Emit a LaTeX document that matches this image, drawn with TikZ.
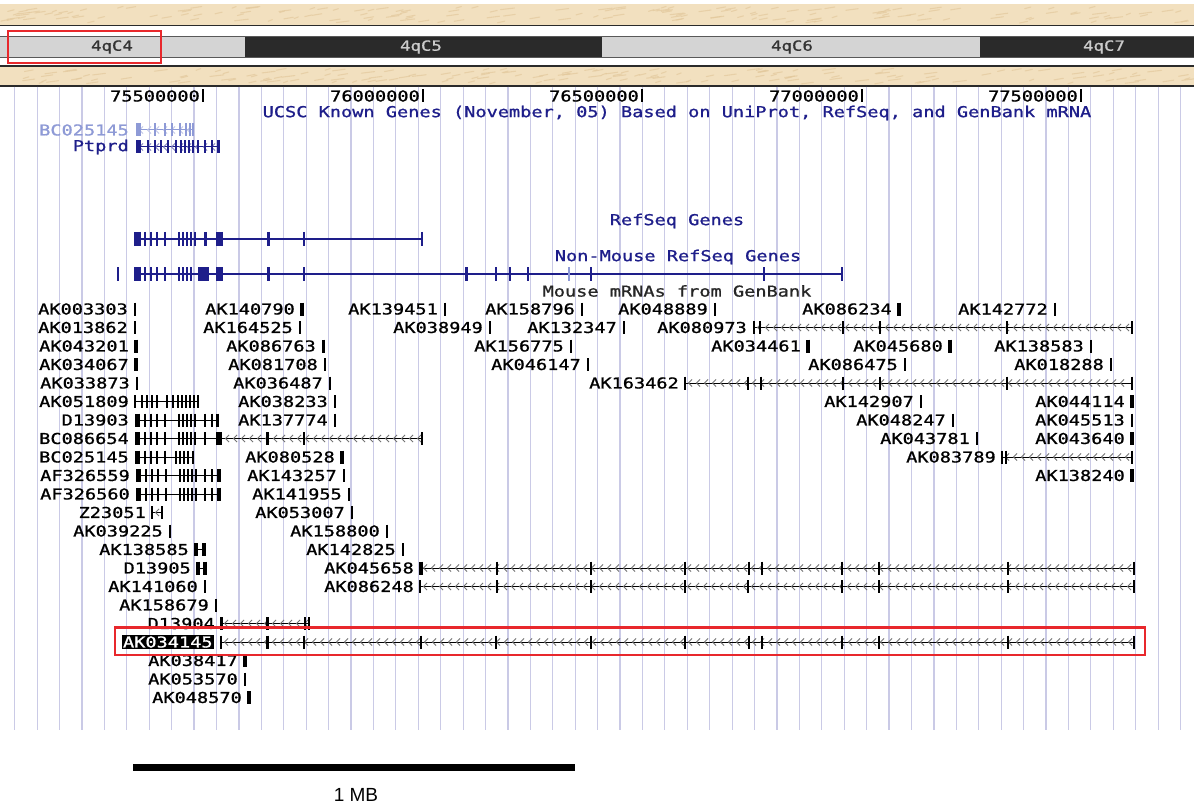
\documentclass[tikz,border=0pt]{standalone}
\usepackage{fontspec}
\newfontfamily\ucsc[FakeStretch=1.24,FakeBold=1.0]{DejaVu Sans Mono}
\newfontfamily\helv{Liberation Sans}
\definecolor{navy}{HTML}{1E1E8A}
\definecolor{lblue}{HTML}{8E9AD6}
\definecolor{gridc}{HTML}{CACAE6}
\definecolor{beige}{HTML}{F2E0BF}
\definecolor{beigeb}{HTML}{E3C99D}
\definecolor{redb}{HTML}{E8282C}
\definecolor{lgray}{HTML}{D4D4D4}
\definecolor{dgray}{HTML}{2A2A2A}
\tikzset{
  lab/.style={font=\ucsc\fontsize{15}{15}\selectfont, inner sep=0pt, anchor=east, text=black},
  ttl/.style={font=\ucsc\fontsize{15}{15}\selectfont, inner sep=0pt},
  bandtxt/.style={font=\ucsc\fontsize{14}{14}\selectfont, inner sep=0pt},
  gridline/.style={draw=gridc, line width=1.2pt},
  chev/.style={draw=#1, line width=0.9pt},
}
% single-exon mRNA: x, y, width, name
\newcommand\one[4]{%
  \node[lab] (n#4) at ({#1-7},#2) {#4};
  \draw[line width=#3] (#1,{#2-6.5}) -- (#1,{#2+6.5});
}
% multi-exon glyph with chevrons: y, x1, x2, exons x/w, colour
\newcommand\mg[5]{%
  \draw[line width=1pt,#5] (#2,#1) -- (#3,#1);
  \pgfmathsetmacro\ca{#2+5}\pgfmathsetmacro\cb{#2+13}\pgfmathsetmacro\cc{#3-3}
  \foreach \a in {\ca,\cb,...,\cc} \draw[chev=#5!55!white] ({\a+2},{#1-3.6}) -- ({\a-1.6},#1) -- ({\a+2},{#1+3.6});
  \foreach \e/\w in {#4} \draw[#5,line width=\w] (\e,{#1-6.5}) -- (\e,{#1+6.5});
}
% short glyph without chevrons
\newcommand\mgs[5]{%
  \draw[line width=1pt,#5] (#2,#1) -- (#3,#1);
  \foreach \e/\w in {#4} \draw[#5,line width=\w] (\e,{#1-6.5}) -- (\e,{#1+6.5});
}
% refseq gene: y, x1, x2, exons
\newcommand\rg[4]{%
  \draw[navy,line width=2pt] (#2,#1) -- (#3,#1);
  \foreach \e/\w in {#4} \draw[navy,line width=\w] (\e,{#1-7}) -- (\e,{#1+7});
}
\begin{document}
\begin{tikzpicture}[x=1pt,y=-1pt]
\useasboundingbox (0,0) rectangle (1194,805);
\fill[white] (0,0) rectangle (1194,805);
% beige bands
\fill[beige] (0,4) rectangle (1194,25.5);
\fill[beige] (0,66) rectangle (1194,86);
\pgfmathsetseed{11}
\foreach \i in {1,...,170} {
  \pgfmathsetmacro\rx{rnd*1194}
  \pgfmathsetmacro\ry{8+rnd*15}
  \pgfmathsetmacro\rl{4+rnd*10}
  \draw[beigeb, line width=1.1pt, line cap=round, opacity=0.7] (\rx,\ry) -- ++(\rl,-1.6);
}
\foreach \i in {1,...,170} {
  \pgfmathsetmacro\rx{rnd*1194}
  \pgfmathsetmacro\ry{70+rnd*14}
  \pgfmathsetmacro\rl{4+rnd*10}
  \draw[beigeb, line width=1.1pt, line cap=round, opacity=0.7] (\rx,\ry) -- ++(\rl,-1.6);
}
\draw[dgray, line width=1.2pt] (0,25.5) -- (1194,25.5);
\draw[dgray, line width=1.2pt] (0,66) -- (1194,66);
\draw[dgray, line width=1.2pt] (0,86) -- (1194,86);
% ideogram
\fill[lgray] (0,37) rectangle (245,57);
\fill[dgray] (245,37) rectangle (602,57);
\fill[lgray] (602,37) rectangle (980,57);
\fill[dgray] (980,37) rectangle (1194,57);
\draw[black!65, line width=1pt] (0,36.5) -- (1194,36.5);
\draw[black!65, line width=1pt] (0,57.5) -- (1194,57.5);
\node[bandtxt, text=black!80] (b4) at (112,47) {4qC4};
\node[bandtxt, text=black!20] (b5) at (421,47) {4qC5};
\node[bandtxt, text=black!80] (b6) at (792,47) {4qC6};
\node[bandtxt, text=black!20] (b7) at (1104,47) {4qC7};
% grid
\foreach \k in {0,...,52} \draw[gridline] ({14.7+22.42*\k},86.6) -- ({14.7+22.42*\k},730);
% ruler
\foreach \t/\l in {203/75500000, 423/76000000, 642/76500000, 862/77000000, 1081/77500000} {
  \node[lab] (r\l) at ({\t-3},96) {\l};
  \draw[line width=1.6pt] (\t,89.5) -- (\t,102);
}
\node[ttl, text=navy] (kgt) at (677,113) {UCSC Known Genes (November, 05) Based on UniProt, RefSeq, and GenBank mRNA};
% known genes
\node[lab, text=lblue] (kgBC) at (129,130) {BC025145};
\mg{130}{136}{193}{138/5,155/1.5,165/1.5,172/1.5,180/1.5,186/1.5,190/1.5,193/1.5}{lblue}
\node[lab, text=navy] (kgP) at (129,147) {Ptprd};
\mg{147}{136}{219}{138/5,148/1.5,155/1.5,161/1.5,168/1.5,176/1.5,181/1.5,185/1.5,189/1.5,193/1.5,198/1.5,205/1.5,212/1.5,218/3}{navy}
% refseq
\node[ttl, text=navy] (rst) at (677,221) {RefSeq Genes};
\rg{239}{134}{422}{137/7,145/2,151/2,157/2,165/2,179/2,183/2,187/2,191/2,195/2,205/3,219.5/7,268/3,304/2.5,422/2}
\node[ttl, text=navy] (nmt) at (678,257) {Non-Mouse RefSeq Genes};
\draw[navy, line width=2pt] (117.5,267) -- (117.5,281);
\rg{274}{134}{842}{137/7,145/2,151/2,157/2,165/2,179/2,183/2,187/2,191/2,203.5/11,219.5/7,268/3,304/2.5,466/3,496/2,510/2,528/2.5,591/2,764/2,842/2}
\draw[lblue, line width=2pt] (569,267) -- (569,281);
\node[ttl, text=black!85] (mmt) at (677,291) {Mouse mRNAs from GenBank};
% row 1
\one{135}{309}{1.8}{AK003303}
\one{302}{309}{3.5}{AK140790}
\one{445}{309}{1.8}{AK139451}
\one{582}{309}{1.8}{AK158796}
\one{715}{309}{1.8}{AK048889}
\one{899}{309}{3.5}{AK086234}
\one{1055}{309}{1.8}{AK142772}
% row 2
\one{135}{327.5}{1.8}{AK013862}
\one{300}{327.5}{1.8}{AK164525}
\one{490}{327.5}{1.8}{AK038949}
\one{624}{327.5}{1.8}{AK132347}
\node[lab] (nAK080973) at (747,327.5) {AK080973};
\mg{327.5}{754}{1132}{754/1.5,760/1.5,843/2,880/2,1007/2,1132/2}{black}
% row 3
\one{136}{346}{4}{AK043201}
\one{323}{346}{3}{AK086763}
\one{571}{346}{1.8}{AK156775}
\one{808}{346}{3.5}{AK034461}
\one{950}{346}{3.5}{AK045680}
\one{1091}{346}{1.8}{AK138583}
% row 4
\one{136}{364.5}{4}{AK034067}
\one{325}{364.5}{1.8}{AK081708}
\one{588}{364.5}{1.8}{AK046147}
\one{905}{364.5}{1.8}{AK086475}
\one{1111}{364.5}{1.8}{AK018288}
% row 5
\one{137}{383}{2.5}{AK033873}
\one{330}{383}{1.8}{AK036487}
\node[lab] (nAK163462) at (679,383) {AK163462};
\mg{383}{685}{1132}{685/1.5,748/2,761/1.5,843/2,880/2,1007/2,1132/2}{black}
% row 6
\node[lab] (nAK051809) at (129,401.5) {AK051809};
\mgs{401.5}{135}{198}{135/1.5,142/1.5,147/1.5,152/1.5,157/1.5,167/1.5,173/1.5,178/1.5,182/1.5,186/1.5,190/1.5,194/1.5,198/1.5}{black}
\one{335}{401.5}{1.8}{AK038233}
\one{921}{401.5}{1.8}{AK142907}
\one{1132}{401.5}{3.5}{AK044114}
% row 7
\node[lab] (nD13903) at (129,420) {D13903};
\mgs{420}{135}{218}{137/5,145/1.5,151/1.5,157/1.5,165/1.5,179/1.5,183/1.5,187/1.5,191/1.5,195/1.5,205/1.5,212/1.5,217/3}{black}
\one{335}{420}{1.8}{AK137774}
\one{953}{420}{1.8}{AK048247}
\one{1132}{420}{1.8}{AK045513}
% row 8
\node[lab] (nBC086654) at (129,438.5) {BC086654};
\mg{438.5}{222}{422}{267/3,304/1.8,422/1.8}{black}
\mgs{438.5}{135}{222}{137/5,145/1.5,151/1.5,157/1.5,165/1.5,179/1.5,183/1.5,187/1.5,191/1.5,195/1.5,205/1.5,219/6}{black}
\one{977}{438.5}{1.8}{AK043781}
\one{1132}{438.5}{3.5}{AK043640}
% row 9
\node[lab] (nBC025145) at (129,457) {BC025145};
\mgs{457}{135}{193}{137/5,145/1.5,151/1.5,157/1.5,165/1.5,176/1.5,180/1.5,184/1.5,188/1.5,193/1.5}{black}
\one{342}{457}{3.5}{AK080528}
\node[lab] (nAK083789) at (996,457) {AK083789};
\mg{457}{1002}{1132}{1002/1.5,1006/1.5,1132/2}{black}
% row 10
\node[lab] (nAF326559) at (130,475.5) {AF326559};
\mgs{475.5}{136}{220}{138/5,146/1.5,152/1.5,158/1.5,166/1.5,180/1.5,184/1.5,188/1.5,192/1.5,196/1.5,205/1.5,212/1.5,219/4}{black}
\one{344}{475.5}{1.8}{AK143257}
\one{1132}{475.5}{3.5}{AK138240}
% row 11
\node[lab] (nAF326560) at (130,494) {AF326560};
\mgs{494}{136}{220}{138/5,146/1.5,152/1.5,158/1.5,166/1.5,180/1.5,184/1.5,188/1.5,192/1.5,196/1.5,205/1.5,212/1.5,219/4}{black}
\one{349}{494}{1.8}{AK141955}
% row 12
\node[lab] (nZ23051) at (146,512.5) {Z23051};
\mgs{512.5}{152}{162}{152/1.5,162/2}{black}
\draw[chev=black!55!white] (159,508.9) -- (155.4,512.5) -- (159,516.1);
\one{352}{512.5}{1.8}{AK053007}
% row 13
\one{170}{531}{1.8}{AK039225}
\one{387}{531}{1.8}{AK158800}
% row 14
\node[lab] (nAK138585) at (189,549.5) {AK138585};
\mgs{549.5}{196}{204}{196/3.5,204/3.5}{black}
\one{403}{549.5}{1.8}{AK142825}
% row 15
\node[lab] (nD13905) at (191,568) {D13905};
\mgs{568}{198}{205}{198/3.5,205/3.5}{black}
\node[lab] (nAK045658) at (414,568) {AK045658};
\mg{568}{420}{1134}{421/3.5,497/2,591/2,685/2,749/2,762/1.5,842/2,879/2,1008/2,1134/2}{black}
% row 16
\one{205}{586.5}{1.8}{AK141060}
\node[lab] (nAK086248) at (414,586.5) {AK086248};
\mg{586.5}{420}{1134}{420/1.5,497/2,591/2,685/2,748/2,842/2,879/2,1008/2,1134/2}{black}
% row 17
\one{216}{605}{1.8}{AK158679}
% row 18
\node[lab] (nD13904) at (215,623.5) {D13904};
\mg{623.5}{221}{309}{221/3,267/3,305/1.5,309/1.5}{black}
% row 19
\node[lab, fill=black, text=white, inner sep=1.2pt] (nAK034145) at (214,642) {AK034145};
\mg{642}{221}{1134}{221/1.5,267/3,304/2,421/2,496/2,591/2,685/2,749/2,762/1.5,842/2,879/2,1008/2,1134/2}{black}
% rows 20-22
\one{245}{660.5}{3.5}{AK038417}
\one{245}{679}{1.8}{AK053570}
\one{249}{697.5}{3.5}{AK048570}
% red highlight boxes
\draw[redb, line width=2.8pt] (8,31) rectangle (161,63);
\draw[redb, line width=2.8pt] (115,627.5) rectangle (1145,655);
% scale bar
\fill[black] (133,764) rectangle (575,771);
\node[font=\helv\fontsize{19}{19}\selectfont, inner sep=0pt, anchor=base] (mb) at (356,801) {1 MB};
\end{tikzpicture}
\end{document}
